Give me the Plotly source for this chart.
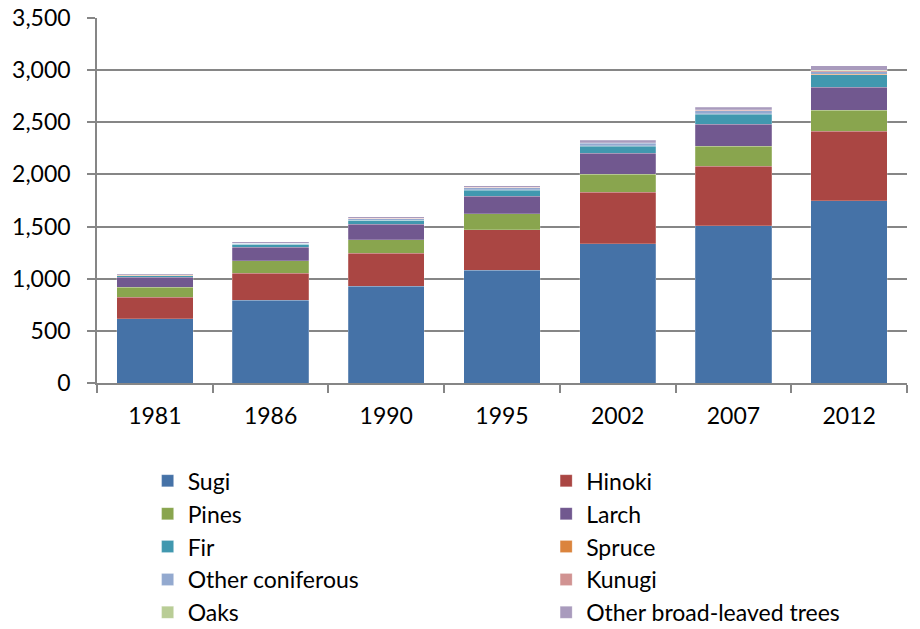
import plotly.graph_objects as go

# Growing stock of planted forests by species (million m3)
years = ["1981", "1986", "1990", "1995", "2002", "2007", "2012"]

sugi = [618, 795, 930, 1083, 1334, 1510, 1750]
hinoki = [202, 256, 313, 388, 493, 570, 666]
pines = [96, 119, 129, 151, 173, 189, 199]
larch = [100, 131, 150, 169, 202, 213, 219]
fir = [13, 29, 38, 58, 67, 95, 121]
spruce = [2, 2, 3, 4, 5, 5, 6]
other_coniferous = [4, 6, 14, 19, 24, 27, 26]
kunugi = [2, 2, 3, 4, 5, 6, 7]
oaks = [1, 1, 1, 2, 3, 3, 4]
other_broadleaved = [10, 12, 15, 13, 24, 26, 43]

# (name, values, colour, legend column)
series = [
    ("Sugi", sugi, "#4572A7", "legend"),
    ("Hinoki", hinoki, "#AA4643", "legend2"),
    ("Pines", pines, "#89A54E", "legend"),
    ("Larch", larch, "#71588F", "legend2"),
    ("Fir", fir, "#4198AF", "legend"),
    ("Spruce", spruce, "#DB843D", "legend2"),
    ("Other coniferous", other_coniferous, "#93A9CF", "legend"),
    ("Kunugi", kunugi, "#D19392", "legend2"),
    ("Oaks", oaks, "#B9CD96", "legend"),
    ("Other broad-leaved trees", other_broadleaved, "#A99BBD", "legend2"),
]

FONT = "Lato, 'Open Sans', sans-serif"
GRID = "#868686"

fig = go.Figure()
for name, vals, color, leg in series:
    fig.add_trace(go.Bar(
        x=years, y=vals, name=name, legend=leg,
        marker=dict(color=color, line=dict(color="rgba(255,255,255,0.35)", width=0.6)),
    ))

legend_common = dict(
    orientation="v", xanchor="left", y=-0.209, yanchor="top",
    font=dict(family=FONT, size=23, color="#000000"),
    itemwidth=30, traceorder="normal", bgcolor="rgba(0,0,0,0)",
)

fig.update_layout(
    width=920, height=629,
    barmode="stack", bargap=0.34,
    margin=dict(l=97, r=13, t=18, b=246, autoexpand=False),
    paper_bgcolor="white", plot_bgcolor="white",
    font=dict(family=FONT, size=23, color="#000000"),
    showlegend=True,
    legend=dict(x=0.0625, **legend_common),
    legend2=dict(x=0.5545, **legend_common),
    xaxis=dict(
        type="category", showgrid=False, showline=True, linecolor=GRID, linewidth=1.5,
        ticks="outside", tickson="boundaries", ticklen=8, tickcolor=GRID, tickwidth=1.5,
        tickfont=dict(family=FONT, size=23), ticklabelstandoff=12,
    ),
    yaxis=dict(
        range=[0, 3500], dtick=500, tickformat=",d",
        showgrid=True, gridcolor=GRID, gridwidth=1.5,
        showline=True, linecolor=GRID, linewidth=1.5,
        ticks="outside", ticklen=8, tickcolor=GRID, tickwidth=1.5,
        zeroline=False, tickfont=dict(family=FONT, size=23), ticklabelstandoff=12,
    ),
)

fig.write_html("out.html")
